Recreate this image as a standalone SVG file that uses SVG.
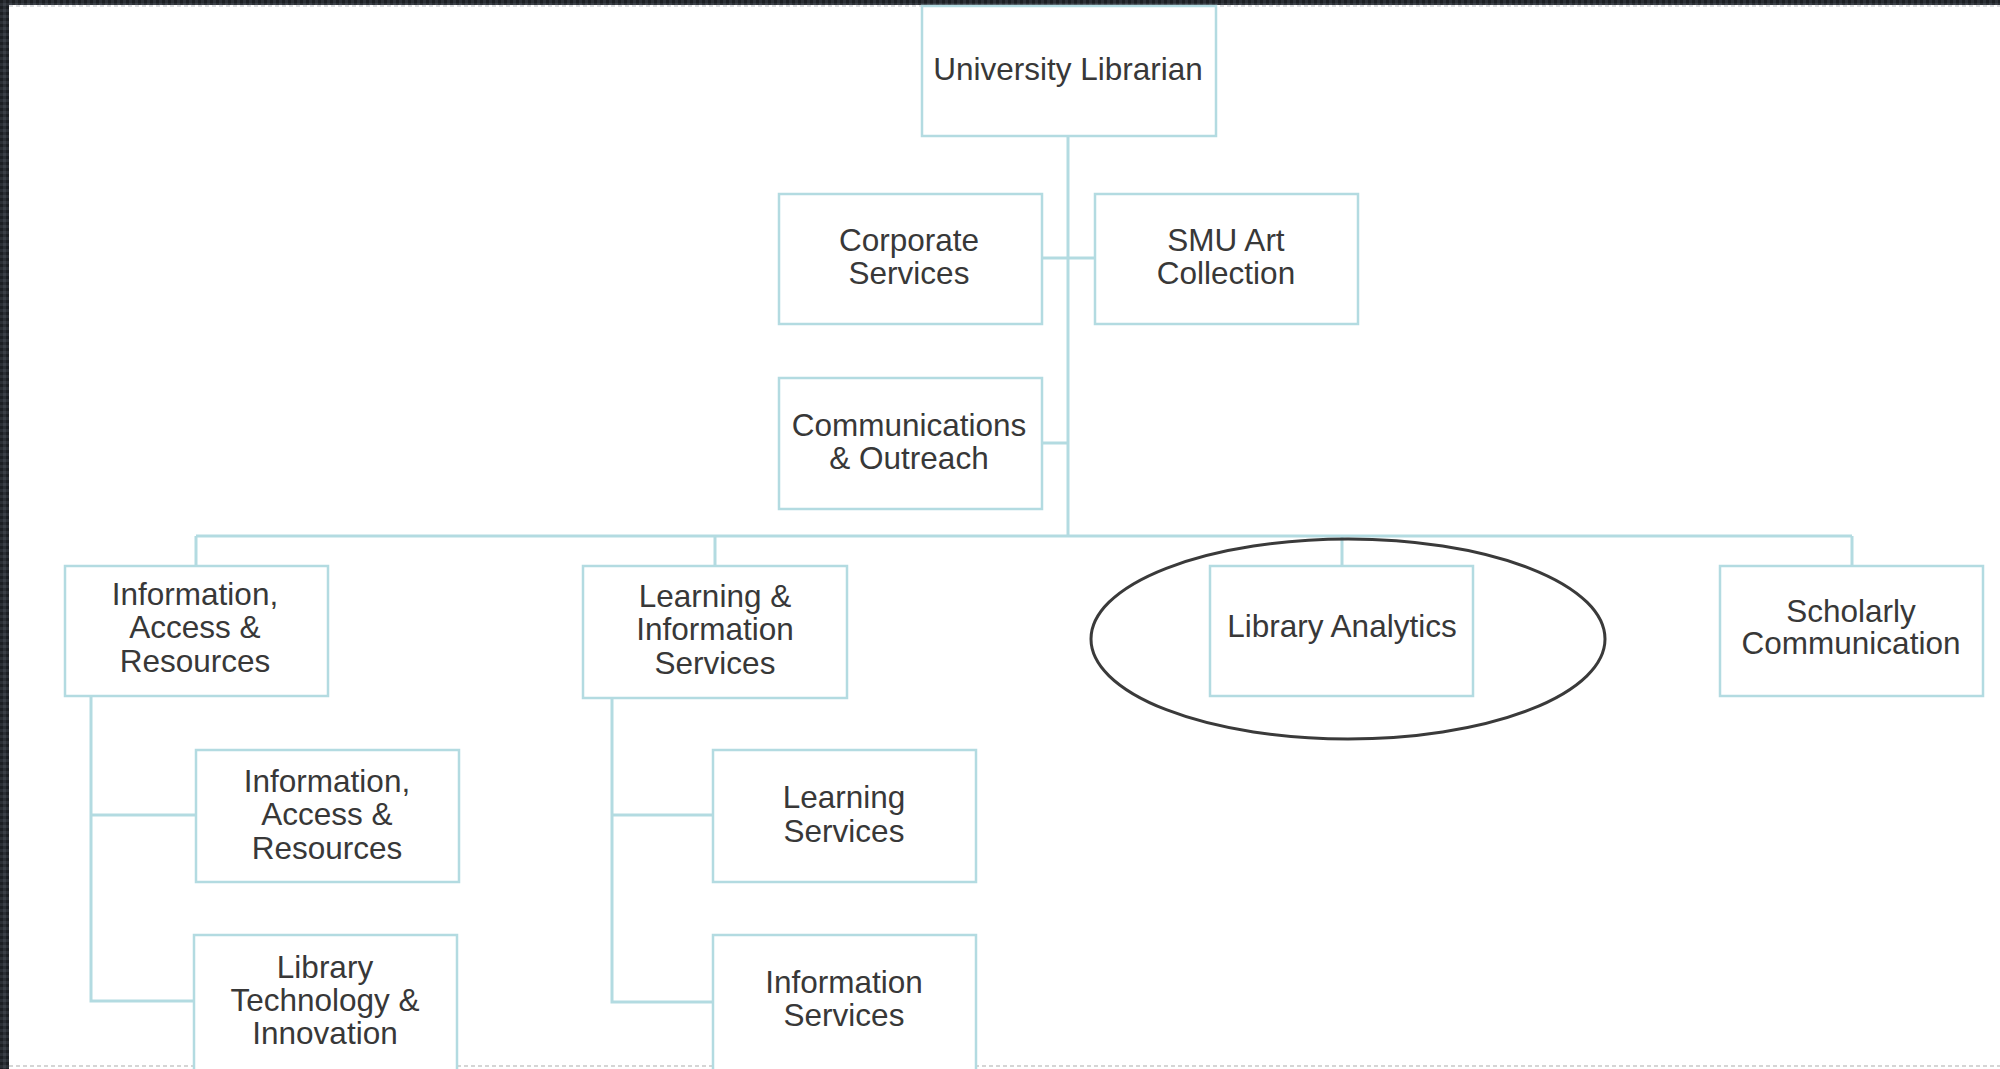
<svg xmlns="http://www.w3.org/2000/svg" width="2000" height="1069" viewBox="0 0 2000 1069">
<style>
.box{fill:#ffffff;stroke:#b3dbe1;stroke-width:2.5}
.lbl{font-family:"Liberation Sans",Arial,sans-serif;font-size:31.5px;fill:#383838;text-anchor:middle}
.conn{stroke:#b3dbe1;stroke-width:3;fill:none}
</style>
<defs>
<pattern id="tex" width="6" height="6" patternUnits="userSpaceOnUse">
<rect width="6" height="6" fill="#2b2f35"/>
<rect x="0" y="0" width="3" height="3" fill="#1c1f23"/>
<rect x="3" y="3" width="3" height="3" fill="#3a3f46"/>
</pattern>
</defs>
<rect x="0" y="0" width="2000" height="1069" fill="#ffffff"/>
<rect x="0" y="0" width="2000" height="5" fill="url(#tex)"/>
<rect x="0" y="0" width="9" height="1069" fill="url(#tex)"/>
<line x1="9" y1="6" x2="2000" y2="6" stroke="#cfd2d6" stroke-width="1.5" stroke-dasharray="4 3"/>
<line x1="9" y1="1066" x2="2000" y2="1066" stroke="#c8c8c8" stroke-width="1.5" stroke-dasharray="4 3"/>

<g id="connectors">
<line class="conn" x1="1068" y1="136" x2="1068" y2="536"/>
<line class="conn" x1="1042" y1="258" x2="1094" y2="258"/>
<line class="conn" x1="1042" y1="443" x2="1068" y2="443"/>
<line class="conn" x1="196" y1="536" x2="1852" y2="536"/>
<line class="conn" x1="196" y1="536" x2="196" y2="566"/>
<line class="conn" x1="715" y1="536" x2="715" y2="566"/>
<line class="conn" x1="1342" y1="536" x2="1342" y2="566"/>
<line class="conn" x1="1852" y1="536" x2="1852" y2="566"/>
<polyline class="conn" points="91,696 91,1001 194,1001"/>
<line class="conn" x1="91" y1="815" x2="196" y2="815"/>
<polyline class="conn" points="612,698 612,1002 713,1002"/>
<line class="conn" x1="612" y1="815" x2="713" y2="815"/>
</g>

<g id="university-librarian">
<rect class="box" x="922" y="6" width="294" height="130"/>
<text class="lbl" x="1068" y="80">University Librarian</text>
</g>
<g id="corporate-services">
<rect class="box" x="779" y="194" width="263" height="130"/>
<text class="lbl" x="909" y="251">Corporate</text>
<text class="lbl" x="909" y="284">Services</text>
</g>
<g id="smu-art-collection">
<rect class="box" x="1095" y="194" width="263" height="130"/>
<text class="lbl" x="1226" y="251">SMU Art</text>
<text class="lbl" x="1226" y="284">Collection</text>
</g>
<g id="communications-outreach">
<rect class="box" x="779" y="378" width="263" height="131"/>
<text class="lbl" x="909" y="436">Communications</text>
<text class="lbl" x="909" y="469">&amp; Outreach</text>
</g>
<g id="information-access-resources">
<rect class="box" x="65" y="566" width="263" height="130"/>
<text class="lbl" x="195" y="605">Information,</text>
<text class="lbl" x="195" y="638">Access &amp;</text>
<text class="lbl" x="195" y="672">Resources</text>
</g>
<g id="learning-information-services">
<rect class="box" x="583" y="566" width="264" height="132"/>
<text class="lbl" x="715" y="607">Learning &amp;</text>
<text class="lbl" x="715" y="640">Information</text>
<text class="lbl" x="715" y="674">Services</text>
</g>
<g id="library-analytics">
<rect class="box" x="1210" y="566" width="263" height="130"/>
<text class="lbl" x="1342" y="637">Library Analytics</text>
<ellipse cx="1348" cy="639" rx="257" ry="100" fill="none" stroke="#3a3a3a" stroke-width="3"/>
</g>
<g id="scholarly-communication">
<rect class="box" x="1720" y="566" width="263" height="130"/>
<text class="lbl" x="1851" y="622">Scholarly</text>
<text class="lbl" x="1851" y="654">Communication</text>
</g>
<g id="information-access-resources-2">
<rect class="box" x="196" y="750" width="263" height="132"/>
<text class="lbl" x="327" y="792">Information,</text>
<text class="lbl" x="327" y="825">Access &amp;</text>
<text class="lbl" x="327" y="859">Resources</text>
</g>
<g id="library-technology-innovation">
<rect class="box" x="194" y="935" width="263" height="140"/>
<text class="lbl" x="325" y="978">Library</text>
<text class="lbl" x="325" y="1011">Technology &amp;</text>
<text class="lbl" x="325" y="1044">Innovation</text>
</g>
<g id="learning-services">
<rect class="box" x="713" y="750" width="263" height="132"/>
<text class="lbl" x="844" y="808">Learning</text>
<text class="lbl" x="844" y="842">Services</text>
</g>
<g id="information-services">
<rect class="box" x="713" y="935" width="263" height="140"/>
<text class="lbl" x="844" y="993">Information</text>
<text class="lbl" x="844" y="1026">Services</text>
</g>
</svg>
